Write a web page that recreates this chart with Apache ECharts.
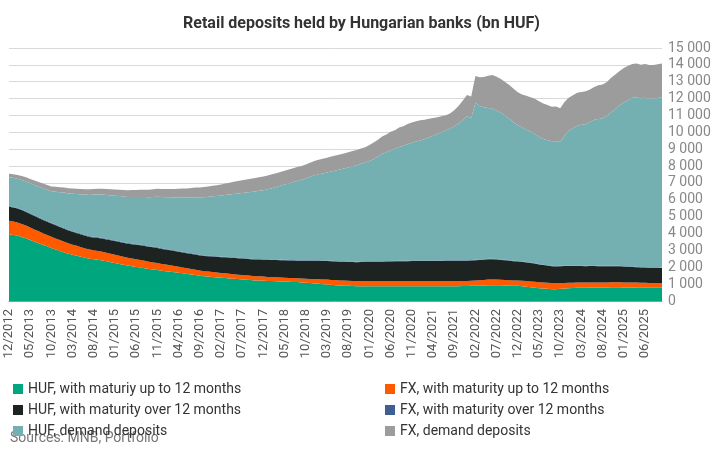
<!DOCTYPE html>
<html>
<head>
<meta charset="UTF-8">
<script src="https://cdn.jsdelivr.net/npm/echarts@6/dist/echarts.min.js"></script>
</head>
<body style="margin:0">
<div id="main" style="width:723px;height:456px;"></div>
<script>
// monthly, 12/2012 - 10/2025 (bn HUF)
var hufShort = [3960,
 3920,3880,3800,3720,3620,3520,3420,3320,3240,3140,3050,2960,
 2880,2800,2740,2680,2620,2560,2500,2470,2440,2400,2350,2300,
 2250,2200,2150,2100,2060,2020,1980,1940,1900,1870,1840,1800,
 1770,1740,1700,1670,1640,1600,1570,1540,1500,1470,1450,1430,
 1400,1380,1360,1340,1320,1300,1280,1260,1240,1220,1210,1200,
 1190,1180,1170,1160,1150,1140,1130,1120,1100,1080,1060,1040,
 1020,1000,980,960,940,920,910,900,890,880,880,880,
 870,870,870,870,870,870,870,870,870,870,870,870,
 870,870,870,870,870,870,880,880,880,880,890,890,
 900,900,910,920,930,940,940,930,920,910,900,900,
 880,850,820,790,760,740,720,700,700,720,740,760,
 770,780,790,790,800,800,800,800,800,810,810,810,
 800,800,800,790,790,790,780,780,780,780];
var fxShort = [800,
 790,780,770,750,740,720,710,690,680,670,660,650,
 640,620,600,590,570,560,550,540,530,520,510,500,
 490,480,470,460,460,450,450,440,430,420,410,400,
 390,380,370,360,350,340,330,320,310,300,300,290,
 290,280,280,270,270,260,260,260,250,250,250,250,
 240,240,240,240,230,230,230,230,230,240,250,260,
 270,280,290,290,300,300,300,300,300,300,300,300,
 300,300,300,300,300,300,300,300,300,300,300,300,
 300,300,300,300,300,300,300,300,300,300,300,300,
 300,310,320,330,340,340,340,330,330,320,320,310,
 320,330,340,350,350,350,360,360,350,340,330,320,
 310,310,300,300,300,300,300,300,300,300,300,300,
 300,300,300,300,290,290,290,290,290,290];
var hufLong = [830,
 830,820,820,810,800,800,790,790,780,780,780,770,
 770,760,760,750,750,750,750,760,770,780,790,800,
 810,820,830,840,850,860,870,880,880,890,890,890,
 890,890,890,890,890,890,890,890,890,900,910,920,
 930,940,950,960,970,980,980,980,990,990,1000,1000,
 1010,1010,1020,1020,1030,1030,1040,1040,1050,1060,1070,1080,
 1090,1090,1100,1100,1100,1110,1110,1110,1120,1120,1130,1140,
 1150,1150,1160,1160,1170,1170,1180,1180,1190,1190,1200,1200,
 1200,1200,1200,1200,1200,1200,1200,1200,1200,1200,1200,1200,
 1200,1200,1200,1200,1200,1190,1180,1170,1160,1150,1140,1130,
 1120,1110,1100,1080,1060,1040,1020,1000,1000,1000,1000,990,
 990,980,980,970,970,970,960,960,960,950,950,950,
 940,930,920,910,900,900,890,890,890,890];
var fxLong = [40,
 40,40,40,40,40,40,40,40,40,40,40,40,
 40,40,40,40,40,40,40,40,40,40,40,40,
 40,40,40,40,40,40,40,40,40,40,40,40,
 35,35,35,35,35,35,35,35,35,35,35,35,
 30,30,30,30,30,30,30,30,30,30,30,30,
 30,30,30,30,30,30,30,30,30,30,30,30,
 30,30,30,30,30,30,30,30,30,30,30,30,
 30,30,30,30,30,30,30,30,30,30,30,30,
 30,30,30,30,30,30,30,30,30,30,30,30,
 30,30,30,30,30,30,30,30,30,30,30,30,
 25,25,25,25,25,25,25,25,25,25,25,25,
 25,25,25,25,25,25,25,25,25,25,25,25,
 25,25,25,25,25,25,25,25,25,25];
var hufDemand = [1710,
 1720,1730,1750,1770,1790,1800,1820,1840,1850,1870,1950,2030,
 2100,2160,2220,2280,2340,2400,2450,2500,2540,2570,2600,2620,
 2650,2680,2700,2730,2760,2790,2820,2860,2900,2950,3000,3030,
 3060,3100,3140,3180,3230,3270,3310,3360,3400,3440,3480,3530,
 3570,3620,3660,3710,3760,3800,3850,3900,3950,4000,4040,4080,
 4150,4230,4300,4380,4460,4540,4620,4700,4780,4860,4950,5040,
 5100,5160,5220,5300,5370,5440,5510,5580,5650,5720,5800,5860,
 5950,6050,6200,6350,6450,6570,6650,6750,6820,6900,6980,7050,
 7120,7200,7300,7400,7500,7600,7700,7800,7950,8100,8300,8550,
 8400,9300,9100,9000,8950,8900,8800,8700,8550,8400,8200,8050,
 7950,7850,7750,7650,7550,7450,7400,7380,7400,7350,7700,8000,
 8150,8300,8350,8400,8500,8650,8700,8750,8900,9100,9300,9500,
 9700,9850,10000,10050,10000,10050,10000,10000,10050,10100];
var fxDemand = [200,
 210,220,230,240,250,260,270,280,290,290,300,300,
 300,300,310,310,320,320,330,330,330,340,350,360,
 370,380,390,400,410,420,430,440,450,460,470,480,
 490,500,510,520,530,540,560,580,600,610,620,630,
 640,660,680,700,720,740,760,780,790,800,810,820,
 820,820,820,820,820,820,820,820,820,830,840,850,
 860,870,870,880,880,890,890,900,900,900,900,900,
 950,1000,1000,1050,1050,1100,1100,1150,1150,1200,1200,1200,
 1200,1150,1100,1050,1000,950,900,900,950,1050,1150,1250,
 1300,1600,1700,1800,1900,2000,2000,2000,2000,2000,2000,1950,
 1950,2000,2050,2100,2100,2100,2100,2050,2050,2000,2000,1950,
 1950,1950,1950,1950,1950,1950,2000,2000,2000,2050,2050,2050,
 2050,2050,2000,2000,2000,2000,2000,2000,2000,2000];

var months = [];
for (var y = 2012, m = 12; months.length < hufShort.length; ) {
    months.push((m < 10 ? '0' + m : '' + m) + '/' + y);
    m++; if (m > 12) { m = 1; y++; }
}

var names = ['HUF, with maturiy up to 12 months', 'FX, with maturity up to 12 months',
             'HUF, with maturity over 12 months', 'FX, with maturity over 12 months',
             'HUF, demand deposits', 'FX, demand deposits'];
var colors = ['#00a67e', '#ff5a00', '#1c2321', '#3d5f92', '#74afb2', '#9c9c9c'];
var values = [hufShort, fxShort, hufLong, fxLong, hufDemand, fxDemand];

var series = values.map(function (v, i) {
    return {
        name: names[i], type: 'line', stack: 'all', data: v,
        symbol: 'none', lineStyle: {width: 0},
        areaStyle: {color: colors[i], opacity: 1},
        itemStyle: {color: colors[i]}
    };
});

var legendCommon = {
    orient: 'vertical', itemWidth: 10, itemHeight: 10, itemGap: 7, icon: 'rect',
    textStyle: {fontSize: 14, color: '#333', fontFamily: 'Roboto'}
};

var myChart = echarts.init(document.getElementById('main'));
myChart.setOption({
    animation: false,
    textStyle: {fontFamily: 'Roboto'},
    title: {
        text: '{b|Retail deposits held by Hungarian banks} {n|(bn HUF)}',
        left: 'center', top: 10,
        textStyle: {rich: {
            b: {fontSize: 16, fontWeight: 'bold', color: '#333', fontFamily: 'Roboto'},
            n: {fontSize: 16, color: '#333', fontFamily: 'Roboto'}
        }}
    },
    graphic: [{type: 'text', left: 10, top: 431,
        style: {text: 'Sources: MNB, Portfolio', fontSize: 14, fill: '#777', fontFamily: 'Roboto'}}],
    legend: [
        Object.assign({left: 8, top: 377, data: [names[0], names[2], names[4]]}, legendCommon),
        Object.assign({left: 380, top: 377, data: [names[1], names[3], names[5]]}, legendCommon)
    ],
    grid: {left: 9, right: 61, top: 48, bottom: 155},
    xAxis: {
        type: 'category', data: months, boundaryGap: false,
        axisLine: {lineStyle: {color: '#999'}}, axisTick: {show: false},
        axisLabel: {interval: 4, rotate: 90, fontSize: 13, color: '#555'}
    },
    yAxis: {
        type: 'value', position: 'right', min: 0, max: 15000, interval: 1000,
        axisLabel: {fontSize: 14, color: '#888', margin: 6,
            formatter: function (v) { return v >= 1000 ? Math.floor(v / 1000) + ' 000' : v; }},
        splitLine: {lineStyle: {color: '#d9d9d9'}}
    },
    series: series
});
</script>
</body>
</html>
